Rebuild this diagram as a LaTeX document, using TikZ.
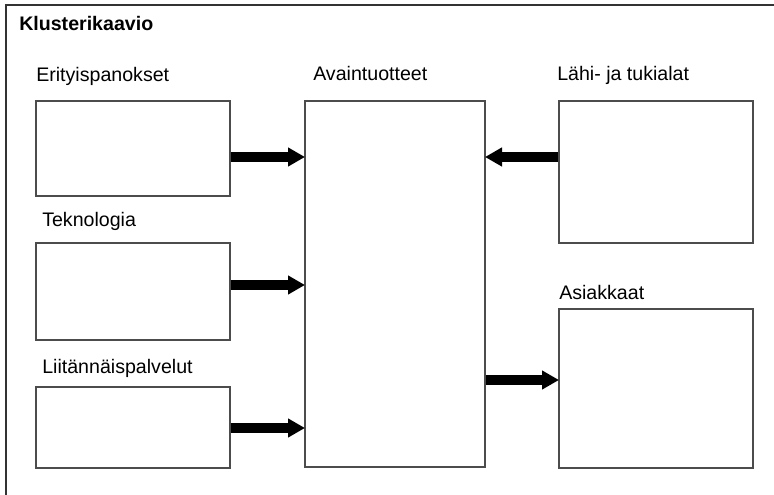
\documentclass[tikz,border=0pt]{standalone}
\usepackage{fontspec}
\setmainfont{Liberation Sans}
\usetikzlibrary{arrows.meta}
\tikzset{
  box/.style={draw=black!70,line width=0.8pt,fill=white,inner sep=0pt},
  lbl/.style={anchor=base west,inner sep=0pt,font=\fontsize{14.7}{17}\selectfont},
  flow/.style={line width=7.5pt,-{Triangle[length=12.75pt,width=13.5pt]},shorten >=-0.4pt}
}
\begin{document}
\begin{tikzpicture}[x=0.75pt,y=-0.75pt]
\useasboundingbox (0,0) rectangle (774,495);
\draw[black!80,line width=1.2pt] (6,495) -- (6,5) -- (774,5);
\node[lbl,font=\fontsize{14.7}{17}\selectfont\bfseries] (title) at (19,31) {Klusterikaavio};
% vasen sarake
\node[box,minimum width=145.5pt,minimum height=71.25pt] (erit) at (133,148.5) {};
\node[box,minimum width=145.5pt,minimum height=72.75pt] (tekn) at (133,291.5) {};
\node[box,minimum width=145.5pt,minimum height=60.75pt] (liit) at (133,427.5) {};
\node[lbl] (erit-l) at (36,82) {Erityispanokset};
\node[lbl] (tekn-l) at (42,227) {Teknologia};
\node[lbl] (liit-l) at (42,373) {Liitännäispalvelut};
% keskellä
\node[box,minimum width=135pt,minimum height=274.5pt] (avain) at (395,284) {};
\node[lbl] (avain-l) at (313,81) {Avaintuotteet};
% oikea sarake
\node[box,minimum width=145.5pt,minimum height=106.5pt] (lahi) at (656,172) {};
\node[box,minimum width=145.5pt,minimum height=119.25pt] (asiak) at (656,388.5) {};
\node[lbl] (lahi-l) at (557,81) {Lähi- ja tukialat};
\node[lbl] (asiak-l) at (559,299) {Asiakkaat};
% nuolet
\draw[flow] (erit.east |- 0,157) -- (avain.west |- 0,157);
\draw[flow] (tekn.east |- 0,285) -- (avain.west |- 0,285);
\draw[flow] (liit.east |- 0,428) -- (avain.west |- 0,428);
\draw[flow] (lahi.west |- 0,157) -- (avain.east |- 0,157);
\draw[flow] (avain.east |- 0,380) -- (asiak.west |- 0,380);
\end{tikzpicture}
\end{document}
